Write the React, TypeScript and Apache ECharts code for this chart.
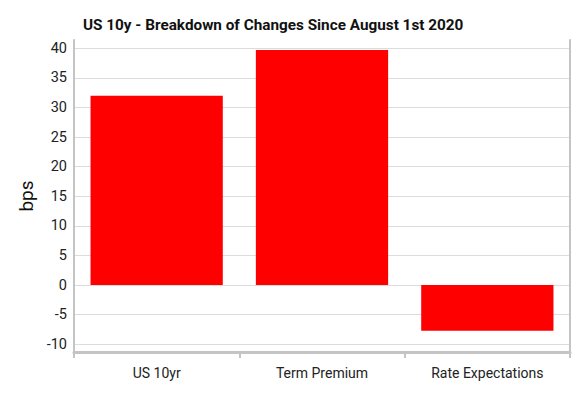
import React, { useEffect, useRef } from "react";
import * as echarts from "echarts";

const categories = ["US 10yr", "Term Premium", "Rate Expectations"];
const values = [32, 39.7, -7.7];
const yTicks = [-10, -5, 0, 5, 10, 15, 20, 25, 30, 35, 40];
const titleText = "US 10y - Breakdown of Changes Since August 1st 2020";
const yName = "bps";

export default function App() {
  const ref = useRef<HTMLDivElement>(null);
  useEffect(() => {
    if (!ref.current) return;
    const chart = echarts.init(ref.current, null, { renderer: "svg" });
    const font = "Roboto, 'Noto Sans', sans-serif";
    chart.setOption({
      animation: false,
      title: {
        text: titleText,
        left: 78,
        top: 12,
        textStyle: { fontFamily: font, fontSize: 15.3, fontWeight: "bold", color: "#111" },
      },
      grid: { left: 74, right: 15, top: 40, bottom: 43 },
      xAxis: {
        type: "category",
        data: categories,
        boundaryGap: true,
        axisLine: { show: true, onZero: false, lineStyle: { color: "#c4c4c4", width: 3 } },
        axisTick: { show: true, alignWithLabel: false, length: 6, lineStyle: { color: "#c4c4c4", width: 2 } },
        axisLabel: { fontFamily: font, fontSize: 14, color: "#222", margin: 14 },
        splitLine: { show: false },
      },
      yAxis: [
        {
          type: "value",
          min: -11.3,
          max: 41.4,
          name: yName,
          nameLocation: "middle",
          nameGap: 30,
          nameTextStyle: { fontFamily: font, fontSize: 19, color: "#111" },
          axisLine: { show: true, lineStyle: { color: "#c4c4c4", width: 2 } },
          axisTick: { show: false, customValues: yTicks },
          axisLabel: { fontFamily: font, fontSize: 14.5, color: "#222", margin: 7, customValues: yTicks },
          splitLine: { show: true, lineStyle: { color: "#dcdcdc", width: 1 } },
        },
        {
          type: "value",
          min: -11.3,
          max: 41.4,
          position: "right",
          axisLine: { show: true, lineStyle: { color: "#c4c4c4", width: 2 } },
          axisTick: { show: false },
          axisLabel: { show: false },
          splitLine: { show: false },
        },
      ],
      series: [
        {
          type: "bar",
          data: values,
          barWidth: "80%",
          itemStyle: { color: "#ff0000" },
        },
      ],
    });
    return () => chart.dispose();
  }, []);
  return (
    <div
      ref={ref}
      style={{ position: "absolute", left: 0, top: 0, width: 585, height: 395 }}
    />
  );
}
